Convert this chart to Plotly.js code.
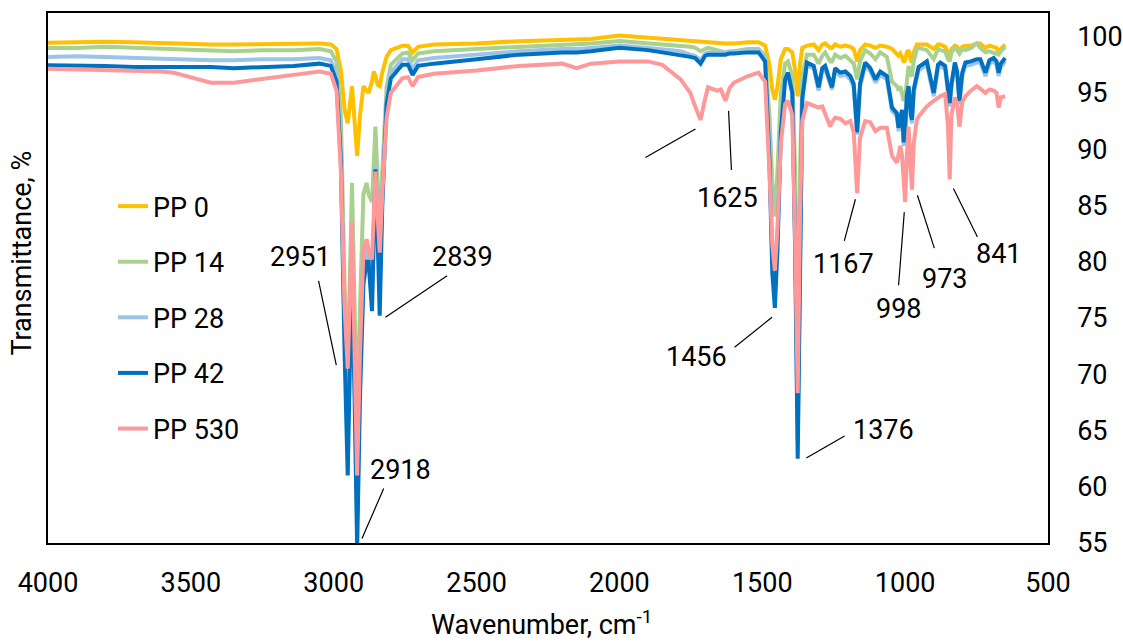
<!DOCTYPE html>
<html>
<head>
<meta charset="utf-8">
<script src="https://cdn.plot.ly/plotly-3.0.1.min.js"></script>
<style>
  html, body { margin: 0; padding: 0; background: #ffffff; }
  #chart { width: 1123px; height: 641px; }
</style>
</head>
<body>
<div id="chart"></div>
<script>
// ---------- data ----------
const wavenumber = [4000,3900,3800,3700,3600,3560,3500,3430,3350,3250,3140,3050,3010,2990,2975,2962,2951,2944,2936,2927,2918,2908,2896,2885,2878,2866,2860,2854,2846,2839,2830,2815,2800,2760,2740,2724,2705,2650,2500,2350,2200,2150,2100,2000,1900,1850,1786,1752,1735,1716,1700,1690,1659,1645,1629,1615,1600,1550,1513,1490,1475,1465,1456,1447,1435,1420,1410,1395,1385,1376,1368,1360,1344,1320,1303,1290,1280,1262,1256,1245,1227,1209,1192,1180,1168,1158,1140,1122,1104,1087,1064,1046,1029,1023,1017,1011,1005,1000,994,988,980,976,970,959,953,924,900,885,877,860,850,844,838,826,818,810,800,789,770,749,737,719,705,690,680,673,665,650];

const pp0 = [99.45,99.5,99.55,99.5,99.4,99.4,99.35,99.3,99.3,99.35,99.35,99.4,99.3,98.9,97.0,93.5,92.3,94.0,95.6,92.5,89.4,93.0,95.6,95.2,95.0,96.0,96.9,96.5,95.7,95.6,96.8,98.2,98.8,99.2,99.2,98.6,99.1,99.3,99.4,99.6,99.7,99.7,99.8,100.1,99.9,99.8,99.7,99.6,99.6,99.5,99.5,99.5,99.4,99.4,99.4,99.4,99.4,99.5,99.5,99.2,97.5,95.3,94.4,95.5,98.0,98.9,98.9,98.6,97.0,94.7,97.5,99.0,99.2,99.3,98.8,99.3,99.4,99.0,99.0,99.3,99.1,99.2,99.1,98.9,97.8,98.8,99.3,99.2,99.0,99.2,99.1,98.9,98.4,98.3,98.5,98.2,97.7,97.9,98.6,98.8,97.9,97.7,98.6,99.3,99.3,99.3,98.9,99.3,99.3,99.1,98.6,98.3,98.9,99.2,99.1,98.7,99.1,99.2,99.2,99.4,99.4,99.0,99.2,99.1,99.0,98.6,98.9,99.3];

const pp14 = [99.0,99.0,99.1,99.0,98.9,98.9,98.85,98.8,98.7,98.8,98.8,98.9,98.7,97.8,93.0,78.0,68.5,78.0,87.0,76.0,65.5,76.0,86.0,87.0,86.0,85.3,89.0,92.0,87.0,82.0,88.0,95.5,97.5,98.5,98.6,97.9,98.5,98.7,98.9,99.1,99.3,99.3,99.4,99.6,99.4,99.3,99.2,99.1,99.0,98.7,98.9,99.0,98.8,98.7,98.6,98.7,98.7,98.9,98.9,98.3,93.0,87.0,84.0,88.0,95.0,97.6,97.8,96.5,88.0,70.0,88.0,96.5,98.4,98.4,97.6,98.3,98.6,97.8,97.8,98.4,98.1,98.3,97.9,97.6,96.2,97.8,98.8,98.5,98.0,98.6,98.2,96.0,95.6,95.2,95.6,95.0,94.3,94.6,96.5,97.4,96.6,96.5,97.8,98.9,99.0,98.8,98.0,98.9,98.8,98.7,98.0,97.8,98.6,99.0,98.8,98.5,98.9,98.8,99.0,99.4,99.0,98.6,98.7,98.6,98.5,98.4,98.7,99.1];

const pp28 = [98.2,98.25,98.2,98.1,98.0,98.0,97.95,97.9,97.9,98.0,98.0,98.1,97.9,96.5,90.0,74.0,65.5,72.0,80.5,70.0,57.0,70.0,79.0,81.0,81.0,77.0,83.0,88.5,83.0,77.5,86.0,94.5,96.8,98.0,98.0,97.1,97.9,98.1,98.4,98.7,98.9,98.9,99.0,99.2,99.0,98.9,98.7,98.4,98.3,97.9,98.5,98.6,98.6,98.6,98.6,98.6,98.7,98.8,98.8,98.0,90.0,80.5,77.0,82.0,92.0,96.4,96.6,95.0,82.0,64.0,82.0,94.5,97.4,97.2,95.2,97.0,97.1,95.6,95.3,97.0,96.5,96.6,96.2,95.5,91.3,95.5,97.4,96.9,95.9,96.6,96.2,93.4,92.9,91.6,92.6,93.2,90.3,91.5,94.5,95.3,92.8,92.3,95.0,96.5,97.0,97.5,94.7,97.2,97.4,97.1,95.0,93.8,95.5,97.4,96.6,94.0,96.5,97.4,97.5,97.7,97.7,96.5,97.6,97.8,97.5,96.5,97.3,97.8];

const pp42 = [97.45,97.45,97.4,97.3,97.3,97.3,97.25,97.3,97.2,97.3,97.4,97.6,97.4,96.0,89.0,72.0,61.0,70.0,79.0,68.0,54.5,68.0,78.0,80.0,80.0,75.6,82.0,88.2,82.0,75.2,85.0,94.0,96.3,97.5,97.5,96.6,97.4,97.6,98.0,98.4,98.6,98.6,98.7,99.0,98.8,98.6,98.4,98.2,98.1,97.6,98.3,98.4,98.4,98.4,98.4,98.5,98.5,98.6,98.6,97.8,89.0,79.0,75.9,81.0,91.5,96.2,96.8,95.0,81.0,62.5,81.0,94.5,97.7,97.4,95.5,97.2,97.4,95.8,95.5,97.2,96.8,96.9,96.5,95.8,91.5,95.8,97.7,97.2,96.2,96.9,96.5,93.7,93.2,91.9,92.9,93.5,90.6,91.8,94.8,95.6,93.1,92.6,95.3,96.8,97.3,97.8,95.0,97.5,97.7,97.4,95.3,94.1,95.8,97.7,96.9,94.3,96.8,97.7,97.8,98.0,98.0,96.8,97.9,98.1,97.8,96.8,97.6,98.1];

const pp530 = [97.15,97.1,97.0,96.95,96.9,96.8,96.4,95.9,95.9,96.2,96.6,96.9,96.7,95.2,88.0,76.0,70.5,76.5,83.5,72.0,61.0,72.0,81.0,82.0,81.0,80.2,84.5,88.0,84.0,80.8,86.0,92.8,95.0,96.3,96.4,95.6,96.4,96.7,97.0,97.4,97.6,97.2,97.6,97.8,97.8,97.5,96.2,95.0,93.8,92.6,94.5,95.5,95.2,95.3,94.3,95.4,95.9,96.5,96.8,96.0,88.0,81.5,79.2,83.0,90.5,94.0,94.3,93.0,82.0,68.3,84.0,92.5,94.1,93.9,93.7,93.8,93.2,92.0,92.4,92.8,92.7,92.3,92.5,91.5,86.1,91.0,92.5,92.4,91.6,91.9,91.9,89.4,88.8,89.5,90.3,89.5,87.0,85.3,89.5,92.0,88.0,86.4,90.5,92.6,92.9,93.8,94.3,94.6,94.7,94.9,92.0,87.3,93.0,94.6,94.0,92.0,94.2,94.7,95.2,95.6,95.4,95.0,95.3,95.2,95.0,93.7,94.6,94.7];

const seriesNames = ['PP 0', 'PP 14', 'PP 28', 'PP 42', 'PP 530'];
const seriesValues = [pp0, pp14, pp28, pp42, pp530];
const seriesColors = ['#FFC000', '#A9D18E', '#9DC3E6', '#0070C0', '#FF9999'];

const xTickVals = [4000, 3500, 3000, 2500, 2000, 1500, 1000, 500];
const yTickVals = [55, 60, 65, 70, 75, 80, 85, 90, 95, 100];

// peak labels with their label position and leader line (data coordinates)
const peakLabels = ['2951', '2839', '2918', '1625', '1456', '1376', '1167', '998', '973', '841'];
const labelPos = [
  [3117, 80.4], [2551, 80.4], [2767, 61.5], [1621, 85.7], [1731, 71.5],
  [1075, 65.0], [1217, 79.8], [1021, 75.8], [859, 78.5], [670, 80.7]
];
const leaderLines = [
  [3053, 78.3, 2991, 70.8],
  [2603, 78.75, 2819, 75.06],
  [2825, 59.84, 2901, 55.4],
  [1618, 93.4, 1608, 88.15],
  [1597, 72.4, 1466, 75.06],
  [1212, 64.5, 1346, 62.56],
  [1213, 81.85, 1174, 85.55],
  [1023, 77.9, 1003, 84.4],
  [898, 81.2, 957, 85.9],
  [747, 82.2, 831, 86.5],
  [1909, 89.25, 1734, 91.8]
];

// ---------- chart ----------
const FONT = 'Roboto, "Open Sans", sans-serif';
const FS = 27;

const traces = seriesNames.map((name, i) => ({
  type: 'scatter',
  mode: 'lines',
  name: name,
  x: wavenumber,
  y: seriesValues[i],
  line: { color: seriesColors[i], width: 4 },
  legendgroup: 'g' + i,
  hoverinfo: 'skip'
}));

const annotations = peakLabels.map((t, i) => ({
  x: labelPos[i][0], y: labelPos[i][1], xref: 'x', yref: 'y',
  text: t, showarrow: false,
  font: { family: FONT, size: FS, color: '#000' },
  xanchor: 'center', yanchor: 'middle'
}));
annotations.push({
  xref: 'paper', yref: 'paper', x: -0.026, y: 0.546,
  text: 'Transmittance, %', textangle: -90, showarrow: false,
  font: { family: FONT, size: FS, color: '#000' },
  xanchor: 'center', yanchor: 'middle'
});
annotations.push({
  xref: 'paper', yref: 'paper', x: 0.493, y: -0.150,
  text: 'Wavenumber, cm<sup>-1</sup>', showarrow: false,
  font: { family: FONT, size: FS, color: '#000' },
  xanchor: 'center', yanchor: 'middle'
});

const shapes = leaderLines.map(l => ({
  type: 'line', xref: 'x', yref: 'y',
  x0: l[0], y0: l[1], x1: l[2], y1: l[3],
  line: { color: '#000', width: 1.2 }
}));

const layout = {
  width: 1123, height: 641,
  margin: { l: 48, r: 75, t: 13, b: 98, pad: 0 },
  paper_bgcolor: '#ffffff', plot_bgcolor: '#ffffff',
  font: { family: FONT, size: FS, color: '#000' },
  showlegend: true,
  legend: {
    x: 0.065, xanchor: 'left', y: 0.681, yanchor: 'top',
    bgcolor: 'rgba(0,0,0,0)', borderwidth: 0,
    font: { family: FONT, size: FS, color: '#000' },
    tracegroupgap: 17.5, itemwidth: 30
  },
  xaxis: {
    range: [4000, 500], tickvals: xTickVals, ticks: '',
    showgrid: false, zeroline: false,
    showline: true, mirror: true, linecolor: '#000', linewidth: 1.8,
    tickfont: { family: FONT, size: FS, color: '#000' },
    ticklabelstandoff: 15
  },
  yaxis: {
    range: [55, 102.1], tickvals: yTickVals, ticks: '', side: 'right',
    showgrid: false, zeroline: false,
    showline: true, mirror: true, linecolor: '#000', linewidth: 1.8,
    tickfont: { family: FONT, size: FS, color: '#000' },
    ticklabelstandoff: 22
  },
  annotations: annotations,
  shapes: shapes
};

Plotly.newPlot('chart', traces, layout, { staticPlot: true, displayModeBar: false });
</script>
</body>
</html>
